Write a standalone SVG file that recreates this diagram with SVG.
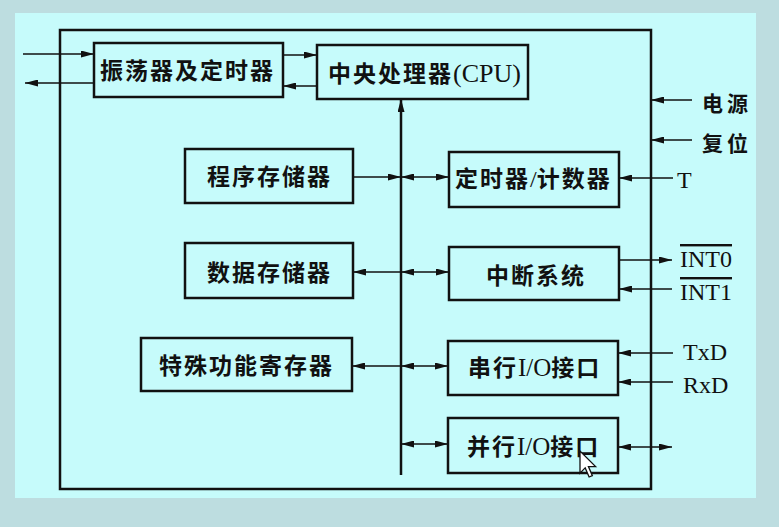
<svg xmlns="http://www.w3.org/2000/svg" width="779" height="527" viewBox="0 0 779 527">
<defs>
<marker id="ah" viewBox="0 0 13 7" markerWidth="13" markerHeight="7" refX="13" refY="3.5" orient="auto-start-reverse" markerUnits="userSpaceOnUse">
<path d="M0,0 L13,3.5 L0,7 z" fill="#111"/>
</marker>
<style>
.box{fill:none;stroke:#111;stroke-width:2.5}
.cn{font-family:"Noto Sans CJK SC","Noto Sans",sans-serif;font-size:23px;font-weight:bold;letter-spacing:2px;fill:#111}
.lt{font-family:"Liberation Serif",serif;font-weight:normal;letter-spacing:0}
.lab{font-family:"Liberation Serif",serif;font-size:24px;fill:#111}
.c line{stroke:#111;stroke-width:1.6;fill:none}
</style>
</defs>
<rect x="0" y="0" width="779" height="527" fill="#bddde0"/>
<rect x="15" y="13" width="741" height="485" fill="#c6fbfb"/>
<rect id="chip" x="60" y="30" width="591" height="459" class="box"/>

<g class="c" id="connectors">
<line x1="23" y1="54" x2="94" y2="54" marker-end="url(#ah)"/>
<line x1="94" y1="83" x2="25" y2="83" marker-end="url(#ah)"/>
<line x1="283" y1="55" x2="317" y2="55" marker-end="url(#ah)"/>
<line x1="317" y1="86" x2="283" y2="86" marker-end="url(#ah)"/>
<line x1="401" y1="475" x2="401" y2="99" marker-end="url(#ah)" style="stroke-width:2.5"/>
<line x1="353" y1="177" x2="401" y2="177" marker-end="url(#ah)"/>
<line x1="401" y1="177" x2="449" y2="177" marker-start="url(#ah)" marker-end="url(#ah)"/>
<line x1="401" y1="272" x2="353" y2="272" marker-end="url(#ah)"/>
<line x1="401" y1="272" x2="449" y2="272" marker-start="url(#ah)" marker-end="url(#ah)"/>
<line x1="401" y1="366" x2="352" y2="366" marker-end="url(#ah)"/>
<line x1="401" y1="366" x2="448" y2="366" marker-start="url(#ah)" marker-end="url(#ah)"/>
<line x1="401" y1="444" x2="448" y2="444" marker-start="url(#ah)" marker-end="url(#ah)"/>
<line x1="692" y1="100" x2="651" y2="100" marker-end="url(#ah)"/>
<line x1="692" y1="140" x2="651" y2="140" marker-end="url(#ah)"/>
<line x1="673" y1="178" x2="619" y2="178" marker-end="url(#ah)"/>
<line x1="619" y1="260" x2="672" y2="260" marker-end="url(#ah)"/>
<line x1="672" y1="289" x2="619" y2="289" marker-end="url(#ah)"/>
<line x1="673" y1="353" x2="618" y2="353" marker-end="url(#ah)"/>
<line x1="673" y1="382" x2="618" y2="382" marker-end="url(#ah)"/>
<line x1="618" y1="447" x2="672" y2="447" marker-start="url(#ah)" marker-end="url(#ah)"/>
</g>

<g id="osc"><rect x="94" y="43" width="189" height="54" class="box"/><text x="100" y="79" class="cn">振荡器及定时器</text></g>
<g id="cpu"><rect x="317" y="45" width="211" height="54" class="box"/><text x="328" y="82" class="cn">中央处理器<tspan class="lt" font-size="26">(CPU)</tspan></text></g>
<g id="prom"><rect x="185" y="149" width="168" height="54" class="box"/><text x="207" y="185" class="cn">程序存储器</text></g>
<g id="ram"><rect x="185" y="243" width="168" height="55" class="box"/><text x="207" y="281" class="cn">数据存储器</text></g>
<g id="sfr"><rect x="141" y="338" width="211" height="53" class="box"/><text x="159" y="374" class="cn">特殊功能寄存器</text></g>
<g id="timer"><rect x="449" y="152" width="170" height="55" class="box"/><text x="455" y="187" class="cn">定时器<tspan class="lt" font-size="24">/</tspan>计数器</text></g>
<g id="int"><rect x="449" y="247" width="170" height="53" class="box"/><text x="486" y="284" class="cn">中断系统</text></g>
<g id="serial"><rect x="448" y="341" width="170" height="54" class="box"/><text x="468" y="376" class="cn">串行<tspan class="lt" font-size="25">I/O</tspan>接口</text></g>
<g id="parallel"><rect x="448" y="418" width="170" height="55" class="box"/><text x="467" y="455" class="cn">并行<tspan class="lt" font-size="25">I/O</tspan>接口</text></g>

<g id="labels">
<text x="702" y="111" class="cn" style="font-size:21px;letter-spacing:4px">电源</text>
<text x="702" y="151" class="cn" style="font-size:21px;letter-spacing:4px">复位</text>
<text x="677" y="188" class="lab">T</text>
<text x="680" y="267" class="lab" text-decoration="overline">INT0</text>
<text x="680" y="300" class="lab" text-decoration="overline">INT1</text>
<text x="683" y="360" class="lab">TxD</text>
<text x="683" y="393" class="lab">RxD</text>
</g>

<g id="cursor" transform="translate(580,451) scale(1.3)">
<path d="M0,0 L0,17 L4,13 L7,20 L9.5,19 L6.5,12 L12,12 Z" fill="#fff" stroke="#111" stroke-width="1"/>
</g>
</svg>
